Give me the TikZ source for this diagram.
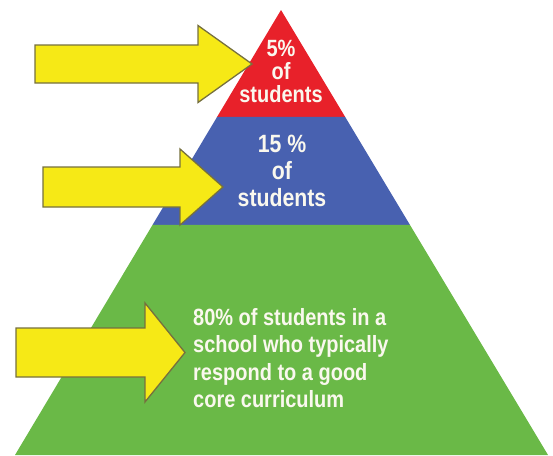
\documentclass[tikz,border=0pt]{standalone}
\usepackage{fontspec}
\usepackage{xcolor}
\usepackage{tikz}
\usetikzlibrary{calc}

\newfontfamily\pyrfont[FakeStretch=0.85]{Liberation Sans}

\definecolor{pyrred}{RGB}{232,33,42}
\definecolor{pyrblue}{RGB}{72,97,176}
\definecolor{pyrgreen}{RGB}{106,185,71}
\definecolor{arrowyellow}{RGB}{246,233,22}
\definecolor{arrowedge}{RGB}{118,112,62}
\definecolor{labelwhite}{RGB}{250,248,238}

\begin{document}
\begin{tikzpicture}[x=1pt, y=-1pt,
  yarrow/.style={fill=arrowyellow, draw=arrowedge, line width=1.3pt, line join=miter},
  tier label/.style 2 args={text=labelwhite, inner sep=0pt,
    font=\pyrfont\bfseries\fontsize{#1}{#2}\selectfont}]

\useasboundingbox (0,0) rectangle (553,455);

\coordinate (apex) at (281,10);
\coordinate (base-l) at (15,455);
\coordinate (base-r) at (548,455);

% tiers of the pyramid
\coordinate (cut1-l) at ($(apex)!0.2404!(base-l)$);
\coordinate (cut1-r) at ($(apex)!0.2404!(base-r)$);
\coordinate (cut2-l) at ($(apex)!0.4831!(base-l)$);
\coordinate (cut2-r) at ($(apex)!0.4831!(base-r)$);

\fill [pyrred] (apex) -- (cut1-r) -- (cut1-l) -- cycle;
\fill [pyrblue] (cut1-l) -- (cut1-r) -- (cut2-r) -- (cut2-l) -- cycle;
\fill [pyrgreen] (cut2-l) -- (cut2-r) -- (base-r) -- (base-l) -- cycle;

% yellow arrows
\foreach \xl/\xb/\xt/\yc/\hs/\hh in {35/198/252/64/19/38.5, 43/180/223/187/20/38, 16/145/185/352.5/24.5/49.5}
  \draw [yarrow] (\xl,\yc-\hs) -- (\xb,\yc-\hs) -- (\xb,\yc-\hh) -- (\xt,\yc)
    -- (\xb,\yc+\hh) -- (\xb,\yc+\hs) -- (\xl,\yc+\hs) -- cycle;

% labels
\node [tier label={23.5}{23}, align=center, anchor=north] (top-label) at (281,40)
  {5\%\\of\\students};
\node [tier label={25}{27}, align=center, anchor=north] (mid-label) at (282,135)
  {15 \%\\of\\students};
\node [tier label={23.5}{27.5}, align=left, anchor=north west] (low-label) at (193,308)
  {80\% of students in a\\school who typically\\respond to a good\\core curriculum};

\end{tikzpicture}
\end{document}
